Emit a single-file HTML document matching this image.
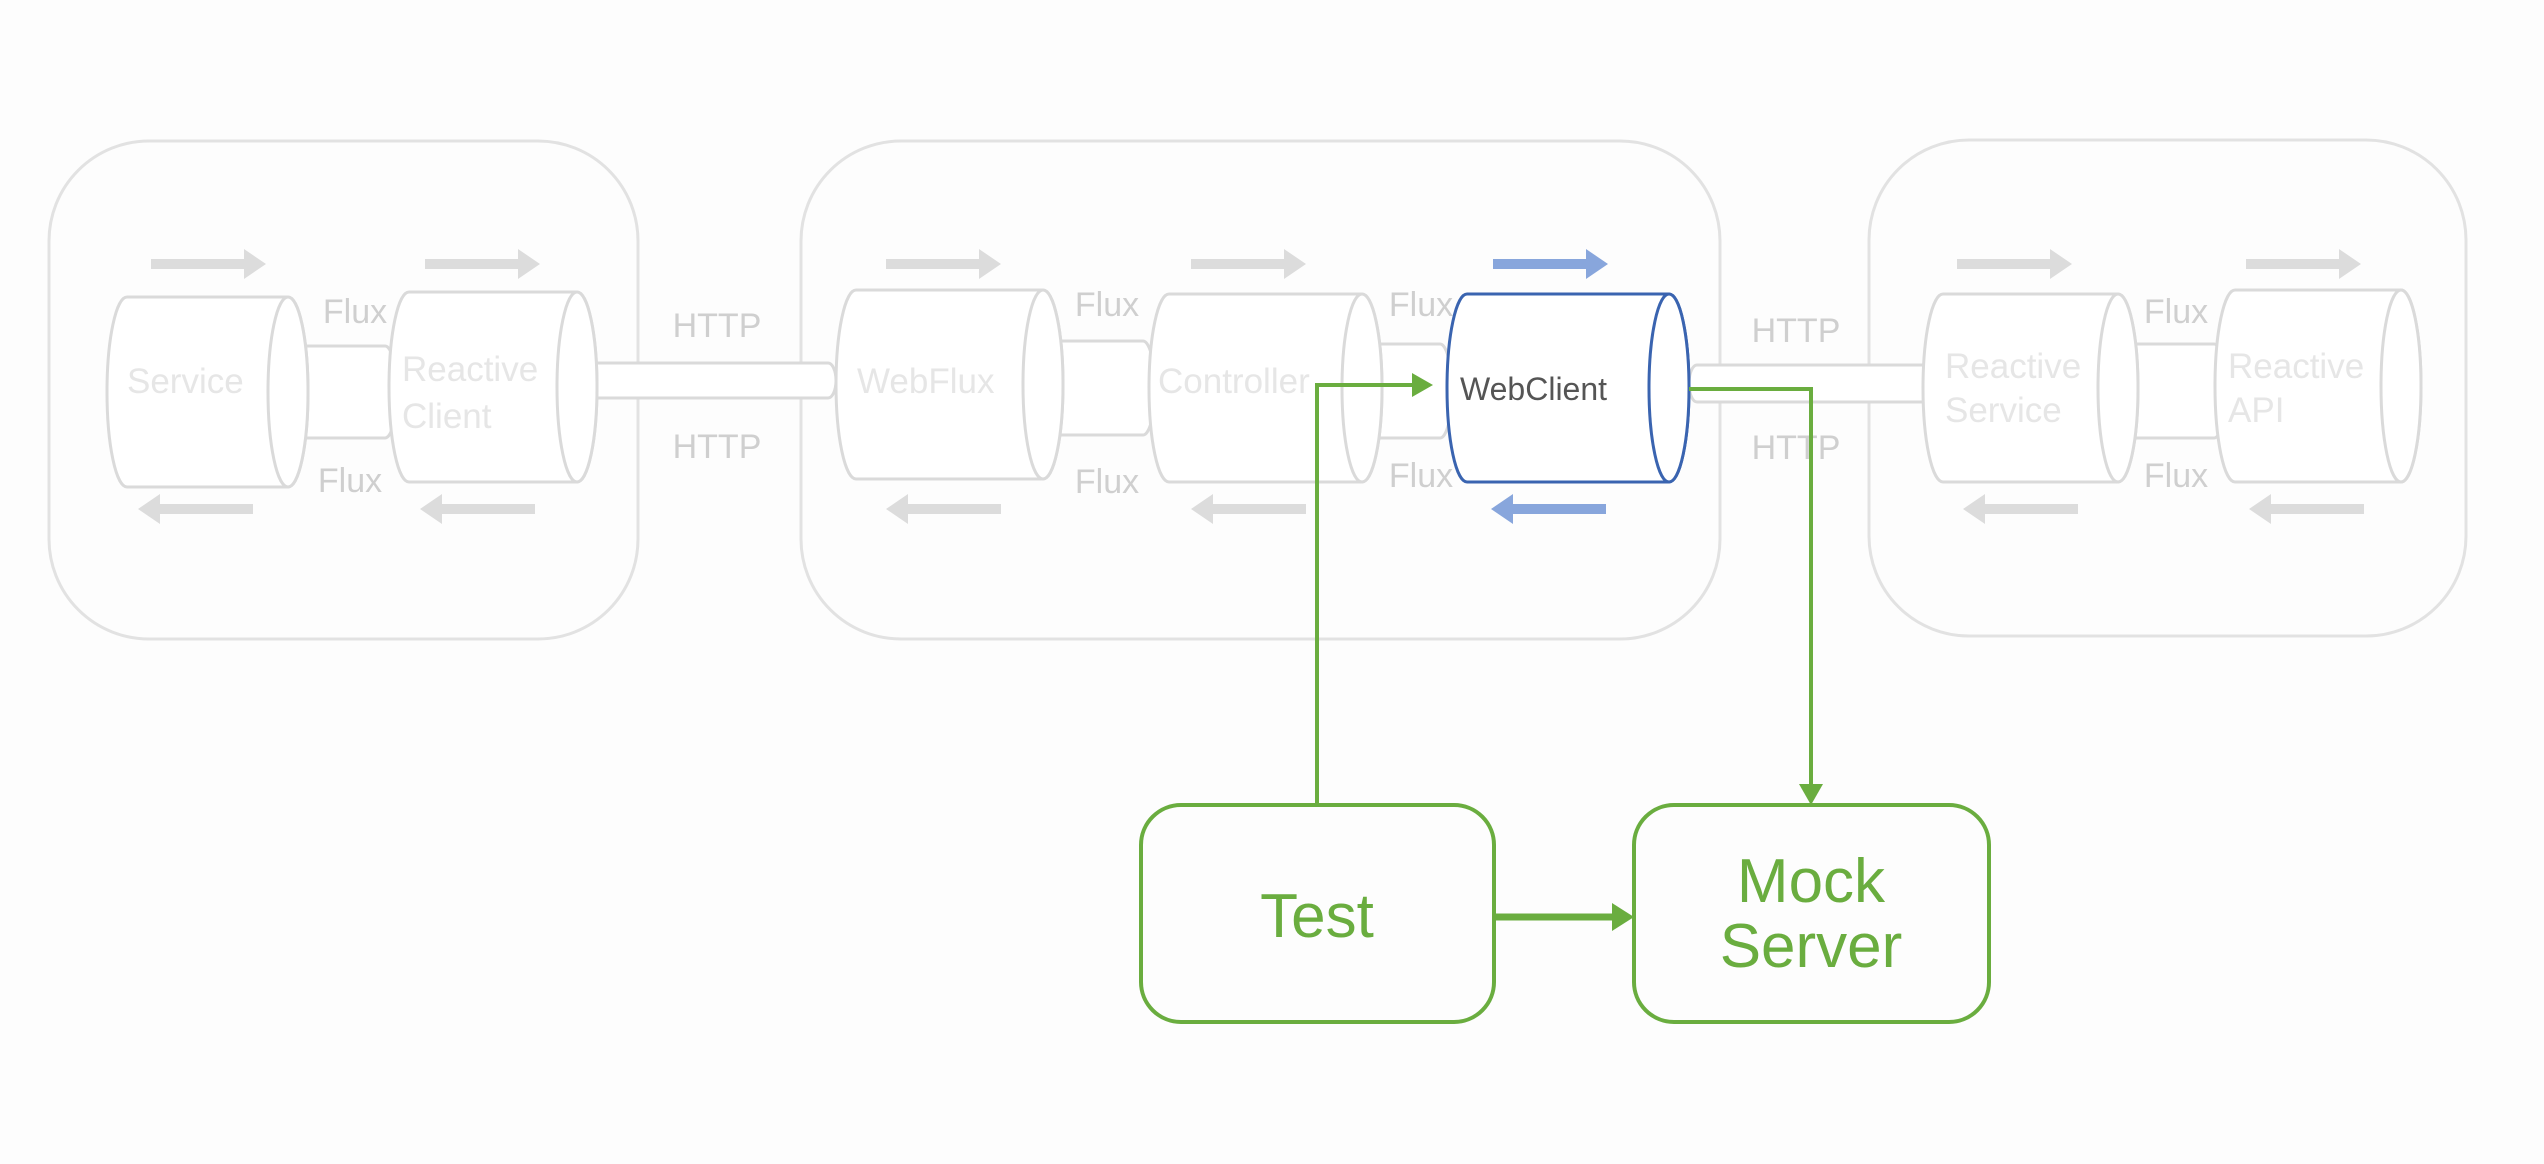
<!DOCTYPE html>
<html><head><meta charset="utf-8"><style>
html,body{margin:0;padding:0;background:#fdfdfd;}
svg{display:block;font-family:"Liberation Sans","DejaVu Sans",sans-serif;}
</style></head><body>
<svg width="2544" height="1164" viewBox="0 0 2544 1164" xmlns="http://www.w3.org/2000/svg">
<defs>
<polygon id="ar" points="0,-5 93,-5 93,-15 115,0 93,15 93,5 0,5"/>
</defs>
<rect width="2544" height="1164" fill="#fdfdfd"/>
<g fill="none" stroke="#e2e2e2" stroke-width="3">
<rect x="49" y="141" width="589" height="498" rx="100"/>
<rect x="801" y="141" width="919" height="498" rx="100"/>
<rect x="1869" y="140" width="597" height="496" rx="100"/>
</g>
<!-- tubes & pipes -->
<g fill="#fff" stroke="#dadada" stroke-width="3">
<path d="M301 346 H385 A12 46 0 0 1 385 438 H301 A12 46 0 0 1 301 346 Z"/>
<path d="M582 363 H828 A8 17.5 0 0 1 828 398 H582 A8 17.5 0 0 1 582 363 Z"/>
<path d="M1052 341 H1143 A12 47 0 0 1 1143 435 H1052 A12 47 0 0 1 1052 341 Z"/>
<path d="M1367 344 H1440 A12 47 0 0 1 1440 438 H1367 A12 47 0 0 1 1367 344 Z"/>
<path d="M1697 365 H1923 A8 18.5 0 0 1 1923 402 H1697 A8 18.5 0 0 1 1697 365 Z"/>
<path d="M2121 344 H2214 A12 47 0 0 1 2214 438 H2121 A12 47 0 0 1 2121 344 Z"/>
</g>
<!-- cylinders -->
<g fill="#fff" stroke="#dadada" stroke-width="3">
<path d="M127 297 H288 A20 95 0 0 1 288 487 H127 A20 95 0 0 1 127 297 Z"/><ellipse cx="288" cy="392" rx="20" ry="95"/>
<path d="M409 292 H577 A20 95 0 0 1 577 482 H409 A20 95 0 0 1 409 292 Z"/><ellipse cx="577" cy="387" rx="20" ry="95"/>
<path d="M856 290 H1043 A20 94.5 0 0 1 1043 479 H856 A20 94.5 0 0 1 856 290 Z"/><ellipse cx="1043" cy="384.5" rx="20" ry="94.5"/>
<path d="M1169 294 H1362 A20 94 0 0 1 1362 482 H1169 A20 94 0 0 1 1169 294 Z"/><ellipse cx="1362" cy="388" rx="20" ry="94"/>
<path d="M1943 294 H2118 A20 94 0 0 1 2118 482 H1943 A20 94 0 0 1 1943 294 Z"/><ellipse cx="2118" cy="388" rx="20" ry="94"/>
<path d="M2235 290 H2401 A20 96 0 0 1 2401 482 H2235 A20 96 0 0 1 2235 290 Z"/><ellipse cx="2401" cy="386" rx="20" ry="96"/>
</g>
<g fill="#fff" stroke="#3a64b0" stroke-width="3">
<path d="M1467 294 H1669 A20 94 0 0 1 1669 482 H1467 A20 94 0 0 1 1467 294 Z"/><ellipse cx="1669" cy="388" rx="20" ry="94"/>
</g>
<!-- arrows -->
<g fill="#dcdcdc">
<use href="#ar" x="151" y="264"/><use href="#ar" x="425" y="264"/><use href="#ar" x="886" y="264"/><use href="#ar" x="1191" y="264"/><use href="#ar" x="1957" y="264"/><use href="#ar" x="2246" y="264"/>
<use href="#ar" transform="translate(253,509) scale(-1,1)"/><use href="#ar" transform="translate(535,509) scale(-1,1)"/><use href="#ar" transform="translate(1001,509) scale(-1,1)"/><use href="#ar" transform="translate(1306,509) scale(-1,1)"/><use href="#ar" transform="translate(2078,509) scale(-1,1)"/><use href="#ar" transform="translate(2364,509) scale(-1,1)"/>
</g>
<g fill="#88a6dc">
<use href="#ar" x="1493" y="264"/>
<use href="#ar" transform="translate(1606,509) scale(-1,1)"/>
</g>
<!-- labels -->
<g fill="#cfcfcf" font-size="34" text-anchor="middle">
<text x="355" y="323">Flux</text><text x="350" y="492">Flux</text>
<text x="717" y="337">HTTP</text><text x="717" y="458">HTTP</text>
<text x="1107" y="316">Flux</text><text x="1107" y="493">Flux</text>
<text x="1421" y="316">Flux</text><text x="1421" y="487">Flux</text>
<text x="1796" y="342">HTTP</text><text x="1796" y="459">HTTP</text>
<text x="2176" y="323">Flux</text><text x="2176" y="487">Flux</text>
</g>
<g fill="#e6e6e6" font-size="35">
<text x="127" y="393">Service</text>
<text x="402" y="381">Reactive</text><text x="402" y="428">Client</text>
<text x="857" y="393">WebFlux</text>
<text x="1158" y="393">Controller</text>
<text x="1945" y="378">Reactive</text><text x="1945" y="422">Service</text>
<text x="2228" y="378">Reactive</text><text x="2228" y="422">API</text>
</g>
<text x="1460" y="400" fill="#555" font-size="32">WebClient</text>
<!-- green -->
<g fill="none" stroke="#6aad3f" stroke-width="4">
<path d="M1317 805 V385 H1414"/>
<path d="M1689 389 H1811 V788"/>
<path d="M1494 917 H1616" stroke-width="7"/>
<rect x="1141" y="805" width="353" height="217" rx="40"/>
<rect x="1634" y="805" width="355" height="217" rx="40"/>
</g>
<g fill="#6aad3f">
<polygon points="1412,373 1433,385 1412,397"/>
<polygon points="1799,784 1823,784 1811,805"/>
<polygon points="1612,903 1634,917 1612,931"/>
</g>
<g fill="#6aad3f" font-size="62" text-anchor="middle">
<text x="1317" y="937">Test</text>
<text x="1811" y="902">Mock</text>
<text x="1811" y="967">Server</text>
</g>
</svg>
</body></html>
